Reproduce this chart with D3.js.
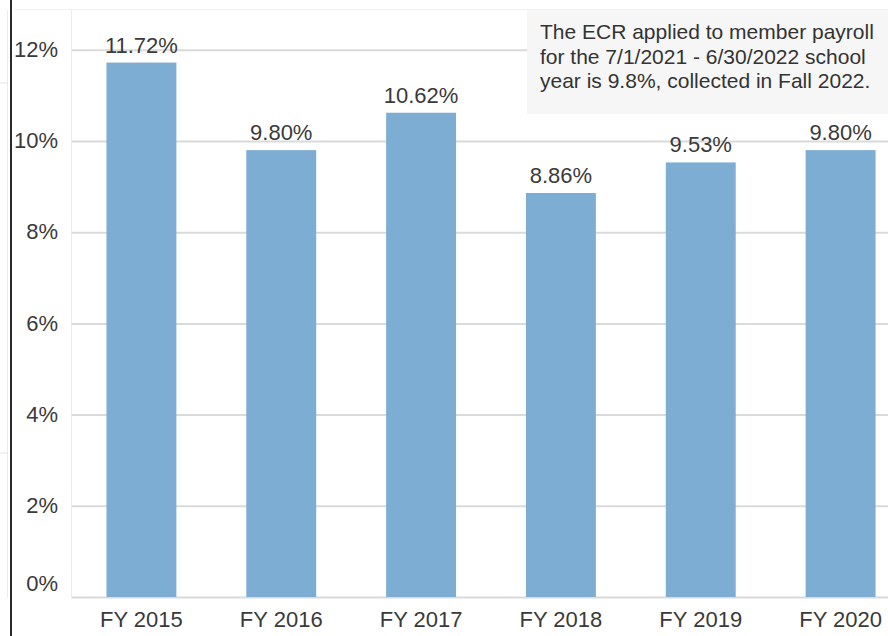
<!DOCTYPE html>
<html>
<head>
<meta charset="utf-8">
<script src="https://cdn.jsdelivr.net/npm/d3@7"></script>
<style>
  body { margin: 0; background: #fff; }
  svg { display: block; font-family: "Liberation Sans", Arial, sans-serif; }
</style>
</head>
<body>
<div id="chart"></div>
<script>
// chart data
var years = ["FY 2015", "FY 2016", "FY 2017", "FY 2018", "FY 2019", "FY 2020"];
var rates = [11.72, 9.80, 10.62, 8.86, 9.53, 9.80];
var yTicks = [0, 2, 4, 6, 8, 10, 12];
var noteLines = [
  "The ECR applied to member payroll",
  "for the 7/1/2021 - 6/30/2022 school",
  "year is 9.8%, collected in Fall 2022."
];

var W = 888, H = 636;
var plotLeft = 71.5, plotRight = 910.5, plotTop = 10, plotBottom = 597;

var svg = d3.select("#chart").append("svg")
    .attr("width", W)
    .attr("height", H);

var x = d3.scaleBand()
    .domain(years)
    .range([plotLeft, plotRight])
    .paddingInner(0.5)
    .paddingOuter(0.25);

var y = d3.scaleLinear()
    .domain([0, 12])
    .range([plotBottom, plotBottom - 6 * 91.2]);

// faint frame bits left of the black edge
svg.append("line")
    .attr("x1", 7.5).attr("x2", 7.5).attr("y1", 10).attr("y2", 598)
    .attr("stroke", "#ececec").attr("stroke-width", 1);
[83, 453].forEach(function(yy) {
  svg.append("line")
    .attr("x1", 0).attr("x2", 8).attr("y1", yy).attr("y2", yy)
    .attr("stroke", "#e4e4e4");
});

// plot frame
svg.append("line")
    .attr("x1", plotLeft).attr("x2", plotLeft).attr("y1", plotTop).attr("y2", plotBottom)
    .attr("stroke", "#ececec");
svg.append("line")
    .attr("x1", 14).attr("x2", W).attr("y1", plotTop - 0.5).attr("y2", plotTop - 0.5)
    .attr("stroke", "#f0f0f0");

// gridlines
var grid = d3.axisLeft(y).tickValues(yTicks).tickSize(-(W - plotLeft)).tickFormat("");
svg.append("g")
    .attr("transform", "translate(" + plotLeft + ",0)")
    .call(grid)
    .call(function(g) { g.select(".domain").remove(); })
    .selectAll("line")
    .attr("stroke", "#dadada")
    .attr("stroke-width", 2);

// y axis labels
var yAxis = d3.axisLeft(y).tickValues(yTicks).tickSize(0).tickPadding(0)
    .tickFormat(function(d) { return d + "%"; });
var yg = svg.append("g")
    .attr("transform", "translate(58,0)")
    .call(yAxis);
yg.select(".domain").remove();
yg.selectAll("text")
    .attr("font-size", 22)
    .attr("font-family", "Liberation Sans, Arial, sans-serif")
    .attr("fill", "#3a3a3a")
    .attr("dy", function(d) { return d === 0 ? "-0.3em" : "0.3em"; });

// bars
svg.selectAll(".bar")
    .data(rates)
  .enter().append("rect")
    .attr("class", "bar")
    .attr("x", function(d, i) { return x(years[i]); })
    .attr("width", x.bandwidth())
    .attr("y", function(d) { return y(d); })
    .attr("height", function(d) { return y(0) - y(d); })
    .attr("fill", "#7eadd4");

// value labels
svg.selectAll(".val")
    .data(rates)
  .enter().append("text")
    .attr("class", "val")
    .attr("x", function(d, i) { return x(years[i]) + x.bandwidth() / 2; })
    .attr("y", function(d) { return y(d) - 10; })
    .attr("text-anchor", "middle")
    .attr("font-size", 22)
    .attr("fill", "#3a3a3a")
    .text(function(d) { return d.toFixed(2) + "%"; });

// x axis labels
var xAxis = d3.axisBottom(x).tickSize(0).tickPadding(0);
var xg = svg.append("g")
    .attr("transform", "translate(0," + plotBottom + ")")
    .call(xAxis);
xg.select(".domain").remove();
xg.selectAll("text")
    .attr("font-size", 22)
    .attr("font-family", "Liberation Sans, Arial, sans-serif")
    .attr("fill", "#3a3a3a")
    .attr("dy", 0)
    .attr("y", 30);

// annotation box
svg.append("rect")
    .attr("x", 527).attr("y", 10)
    .attr("width", W - 527).attr("height", 104)
    .attr("fill", "#f6f6f6");
svg.append("text")
    .attr("font-size", 21)
    .attr("fill", "#333")
  .selectAll("tspan")
    .data(noteLines)
  .enter().append("tspan")
    .attr("x", 540)
    .attr("y", function(d, i) { return 39 + i * 24.7; })
    .text(function(d) { return d; });

// dark left edge
svg.append("line")
    .attr("x1", 11).attr("x2", 11).attr("y1", 0).attr("y2", H)
    .attr("stroke", "#2b2b2b").attr("stroke-width", 2);
</script>
</body>
</html>
